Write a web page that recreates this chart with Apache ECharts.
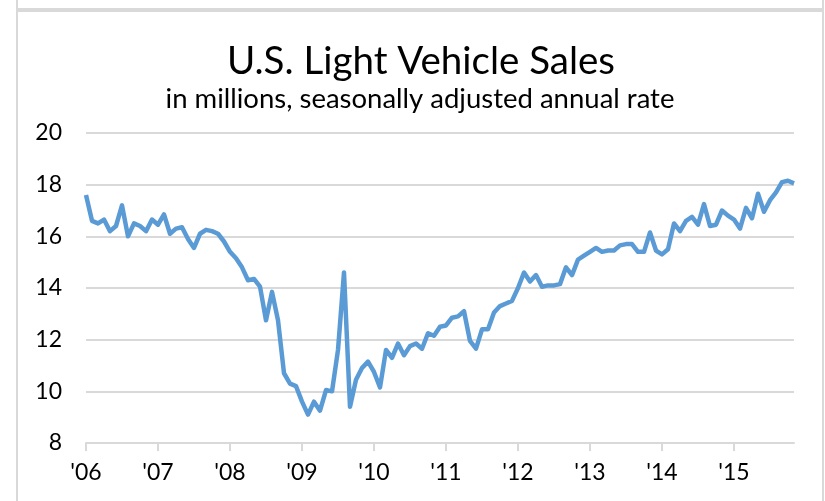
<!DOCTYPE html>
<html>
<head>
<meta charset="utf-8">
<title>U.S. Light Vehicle Sales</title>
<script src="https://cdn.jsdelivr.net/npm/echarts@6/dist/echarts.min.js"></script>
<style>
  html, body { margin: 0; padding: 0; background: #fff; }
  #chart { width: 825px; height: 501px; }
</style>
</head>
<body>
<div id="chart"></div>
<script>
// monthly SAAR, Jan 2006 .. Nov 2015 (millions)
const years = ['2006', '2007', '2008', '2009', '2010', '2011', '2012', '2013', '2014', '2015']
const yearLabels = ["'06", "'07", "'08", "'09", "'10", "'11", "'12", "'13", "'14", "'15"]

const sales = [
  17.6, 16.6, 16.5, 16.65, 16.2, 16.4, 17.2, 16.0, 16.5, 16.4, 16.2, 16.65,
  16.45, 16.85, 16.1, 16.3, 16.35, 15.9, 15.55, 16.1, 16.25, 16.2, 16.1, 15.8,
  15.4, 15.15, 14.8, 14.3, 14.35, 14.05, 12.75, 13.85, 12.75, 10.7, 10.3, 10.2,
  9.6, 9.1, 9.6, 9.25, 10.05, 10.0, 11.6, 14.6, 9.4, 10.45, 10.9, 11.15,
  10.75, 10.15, 11.6, 11.3, 11.85, 11.4, 11.75, 11.85, 11.65, 12.25, 12.15, 12.5,
  12.55, 12.85, 12.9, 13.1, 11.95, 11.65, 12.4, 12.4, 13.05, 13.3, 13.4, 13.5,
  14.0, 14.6, 14.25, 14.5, 14.05, 14.1, 14.1, 14.15, 14.8, 14.5, 15.1, 15.25,
  15.4, 15.55, 15.4, 15.45, 15.45, 15.65, 15.7, 15.7, 15.4, 15.4, 16.15, 15.45,
  15.3, 15.5, 16.5, 16.2, 16.6, 16.75, 16.45, 17.25, 16.4, 16.45, 17.0, 16.8,
  16.65, 16.3, 17.1, 16.7, 17.65, 16.95, 17.4, 17.7, 18.1, 18.15, 18.05
]

// month categories built from the year list
const months = []
years.forEach(y => {
    for (let m = 1; m <= 12; m++) {
        if (months.length < sales.length) months.push(y + '-' + (m < 10 ? '0' + m : m))
    }
})

const font = 'Lato'
const gray = '#d9d9d9'

var chartDom = echarts.init(document.getElementById('chart'))

var option = {
    animation: false,
    textStyle: { fontFamily: font },
    title: [
        {
            text: 'U.S. Light Vehicle Sales',
            left: 421,
            top: 42,
            textAlign: 'center',
            padding: 0,
            textStyle: { fontSize: 38.5, fontWeight: 'normal', color: '#000', fontFamily: font }
        },
        {
            text: 'in millions, seasonally adjusted annual rate',
            left: 420,
            top: 85,
            textAlign: 'center',
            padding: 0,
            textStyle: { fontSize: 27.5, fontWeight: 'normal', color: '#000', fontFamily: font }
        }
    ],
    // panel frame
    graphic: [
        { type: 'line', shape: { x1: 17, y1: 0, x2: 17, y2: 501 }, style: { stroke: gray, lineWidth: 2 } },
        { type: 'line', shape: { x1: 823, y1: 0, x2: 823, y2: 501 }, style: { stroke: gray, lineWidth: 2 } },
        { type: 'line', shape: { x1: 17, y1: 10, x2: 823, y2: 10 }, style: { stroke: gray, lineWidth: 4 } }
    ],
    grid: {
        left: 86,
        right: 31,
        top: 133,
        bottom: 58
    },
    xAxis: {
        type: 'category',
        boundaryGap: false,
        data: months,
        axisLine: { lineStyle: { color: gray, width: 2 } },
        axisTick: { show: true, interval: 11, length: 8, lineStyle: { color: gray, width: 2 } },
        axisLabel: {
            interval: 11,
            margin: 18,
            fontSize: 23,
            color: '#000',
            formatter: (value, index) => yearLabels[Math.floor(index / 12)]
        }
    },
    yAxis: {
        type: 'value',
        min: 8,
        max: 20,
        interval: 2,
        axisLine: { show: false },
        axisTick: { show: false },
        axisLabel: { fontSize: 23, color: '#000', margin: 24 },
        splitLine: { lineStyle: { color: gray, width: 2 } }
    },
    series: [
        {
            name: 'Light Vehicle Sales',
            type: 'line',
            data: sales,
            showSymbol: false,
            lineStyle: { color: '#5b9bd5', width: 4.5, join: 'round' },
            itemStyle: { color: '#5b9bd5' }
        }
    ]
}

chartDom.setOption(option)
</script>
</body>
</html>
